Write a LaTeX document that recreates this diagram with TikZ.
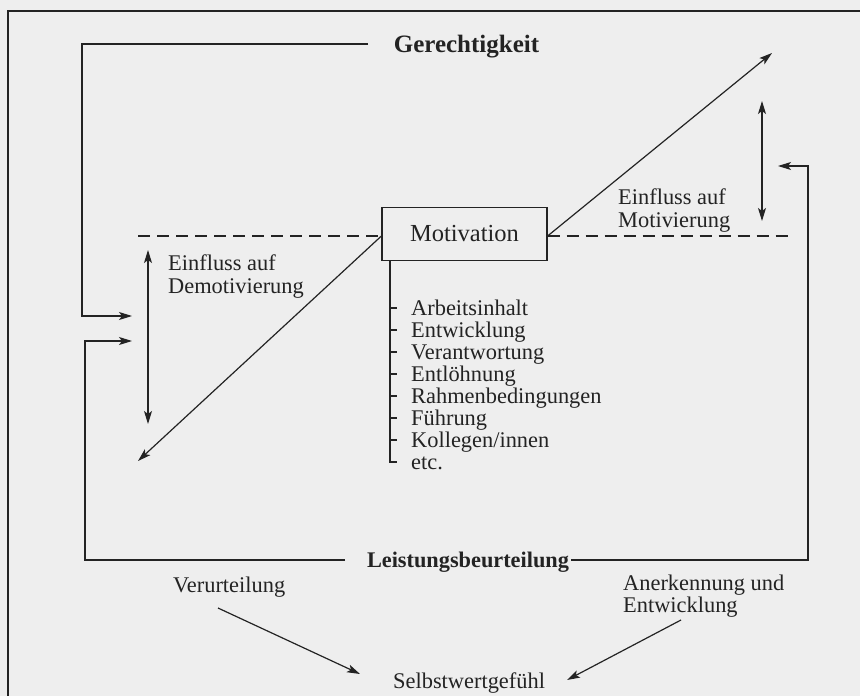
\documentclass[tikz,border=0pt]{standalone}
\usepackage{fontspec}
\setmainfont{Liberation Serif}
\usetikzlibrary{arrows.meta}
\definecolor{ink}{RGB}{35,35,35}
\definecolor{bgc}{RGB}{238,238,238}
\begin{document}
\begin{tikzpicture}[x=1pt,y=-1pt,
  ln/.style={draw=ink, line width=1.2pt},
  arr/.style={ln, -{Stealth[length=13pt,width=8pt,inset=3pt]}},
  darr/.style={ln, {Stealth[length=13pt,width=8pt,inset=3pt]}-{Stealth[length=13pt,width=8pt,inset=3pt]}},
  txt/.style={inner sep=0pt, anchor=base west, text=ink, font=\fontsize{22.4}{22}\selectfont},
  txtb/.style={inner sep=0pt, anchor=base, text=ink, font=\bfseries\fontsize{22.3}{22}\selectfont},
  boxn/.style={draw=ink, line width=1.2pt, minimum width=165pt, minimum height=53pt, inner sep=0pt, text=ink, font=\fontsize{24.5}{24}\selectfont}
]
\fill[bgc] (0,0) rectangle (860,696);
\useasboundingbox (0,0) rectangle (860,696);

% outer frame
\draw[ln] (8,696) -- (8,11) -- (860,11);

% nodes
\node[txtb, font=\bfseries\fontsize{25}{24}\selectfont] (ger) at (466.5,52) {Gerechtigkeit};
\node[boxn] (mot) at (464.5,234) {Motivation};
\node[txtb] (leist) at (468,567) {Leistungsbeurteilung};
\node[txt] (demo1) at (168,270) {Einfluss auf};
\node[txt] (demo2) at (168,293) {Demotivierung};
\node[txt] (moti1) at (618,204) {Einfluss auf};
\node[txt] (moti2) at (618,227) {Motivierung};
\node[txt] (ver) at (173,592) {Verurteilung};
\node[txt] (aner1) at (623,590) {Anerkennung und};
\node[txt] (aner2) at (623,612) {Entwicklung};
\node[txt] (selbst) at (393,688) {Selbstwertgefühl};

% list
\foreach \t [count=\i] in {Arbeitsinhalt,Entwicklung,Verantwortung,Entlöhnung,Rahmenbedingungen,Führung,Kollegen/innen,etc.}{
  \node[txt] (item\i) at (411,{315+22*(\i-1)}) {\t};
}
\draw[ln] (mot.south -| 390,0) -- (390,462) -- (397,462);
\foreach \i in {1,...,7}{
  \draw[ln] (390,{308+22*(\i-1)}) -- (397,{308+22*(\i-1)});
}

% coordinates for free ends
\coordinate (g0) at (368,44);
\coordinate (g1) at (132,316);
\coordinate (l0) at (345,560);
\coordinate (l1) at (132,341);
\coordinate (r0) at (571,560);
\coordinate (r1) at (778,166);
\coordinate (dl) at (138,236);
\coordinate (dr) at (788,236);
\coordinate (dlt) at (138,461);
\coordinate (drt) at (772,53);
\coordinate (da1) at (148,250);
\coordinate (da2) at (148,424);
\coordinate (db1) at (762,101);
\coordinate (db2) at (762,221);
\coordinate (v0) at (218,608);
\coordinate (v1) at (360,674);
\coordinate (a0) at (681,620);
\coordinate (a1) at (567,680);

% connectors
\draw[arr] (g0) -- (82,44) |- (g1);
\draw[arr] (l0) -- (85,560) |- (l1);
\draw[arr] (r0) -- (808,560) |- (r1);
\draw[ln, dash pattern=on 12pt off 7pt] (dl) -- (dl -| mot.west);
\draw[ln, dash pattern=on 12pt off 7pt] (dr -| mot.east) -- (dr);
\draw[arr] (dl -| mot.west) -- (dlt);
\draw[arr] (dr -| mot.east) -- (drt);
\draw[darr] (da1) -- (da2);
\draw[darr] (db1) -- (db2);
\draw[arr] (v0) -- (v1);
\draw[arr] (a0) -- (a1);
\end{tikzpicture}
\end{document}
